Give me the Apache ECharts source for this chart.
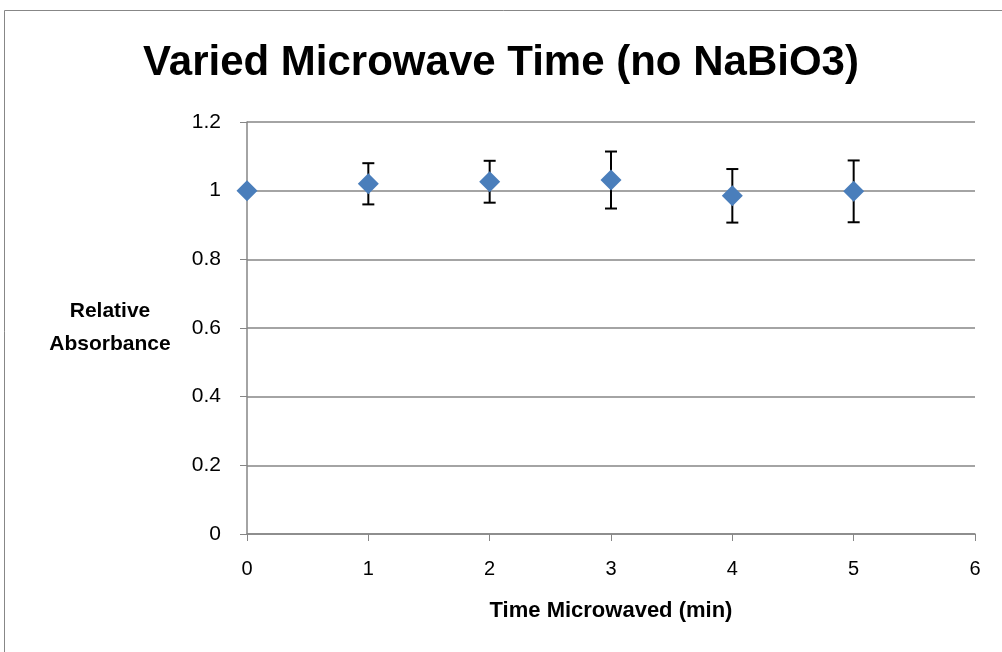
<!DOCTYPE html>
<html><head><meta charset="utf-8">
<script src="https://cdn.jsdelivr.net/npm/echarts@6/dist/echarts.min.js"></script>
<style>html,body{margin:0;padding:0;background:#fff}#c{width:1002px;height:652px}</style>
</head><body><div id="c"></div>
<script>
const times = [0, 1, 2, 3, 4, 5];
const absorbance = [1.0, 1.02, 1.026, 1.031, 0.985, 0.998];
const errors = [0, 0.06, 0.061, 0.083, 0.078, 0.09];
const xTicks = [0, 1, 2, 3, 4, 5, 6];
const yTicks = [0, 0.2, 0.4, 0.6, 0.8, 1, 1.2];
const titleText = 'Varied Microwave Time (no NaBiO3)';
const xName = 'Time Microwaved (min)';
const yName = 'Relative\nAbsorbance';

const FONT = 'Liberation Sans, sans-serif';
const chart = echarts.init(document.getElementById('c'));
const points = times.map((t, i) => [t, absorbance[i]]);
const bars = times.map((t, i) => [t, absorbance[i] - errors[i], absorbance[i] + errors[i]]).filter((d, i) => errors[i] > 0);

chart.setOption({
  animation: false,
  graphic: [{
    type: 'rect', shape: {x: 4.5, y: 10.5, width: 1100, height: 800},
    style: {fill: 'none', stroke: '#878787', lineWidth: 1}, silent: true
  }],
  title: {
    text: titleText, left: 'center', top: 37,
    textStyle: {fontFamily: FONT, fontWeight: 'bold', fontSize: 42, color: '#000'}
  },
  grid: {left: 247, right: 27, top: 122, bottom: 118},
  xAxis: {
    type: 'value', min: 0, max: 6, interval: 1,
    name: xName, nameLocation: 'middle', nameGap: 66,
    nameTextStyle: {fontFamily: FONT, fontWeight: 'bold', fontSize: 22, color: '#000'},
    axisLine: {show: true, lineStyle: {color: '#868686', width: 1.5}},
    axisTick: {show: true, inside: false, length: 7, lineStyle: {color: '#868686'}},
    axisLabel: {fontFamily: FONT, fontSize: 20, color: '#000', margin: 25},
    splitLine: {show: false}
  },
  yAxis: {
    type: 'value', min: 0, max: 1.2, interval: 0.2,
    name: yName, nameLocation: 'middle', nameGap: 137, nameRotate: 0,
    nameTextStyle: {fontFamily: FONT, fontWeight: 'bold', fontSize: 21, color: '#000', lineHeight: 33, align: 'center'},
    axisLine: {show: true, lineStyle: {color: '#868686', width: 1.5}},
    axisTick: {show: true, inside: false, length: 7, lineStyle: {color: '#868686'}},
    axisLabel: {fontFamily: FONT, fontSize: 21, color: '#000', margin: 26,
      formatter: v => String(Math.round(v * 10) / 10)},
    splitLine: {show: true, lineStyle: {color: '#868686', width: 1.5}}
  },
  series: [{
    type: 'custom', z: 2,
    data: bars,
    renderItem: (params, api) => {
      const x = api.value(0), lo = api.value(1), hi = api.value(2);
      const pLo = api.coord([x, lo]), pHi = api.coord([x, hi]);
      const w = 6;
      const st = {stroke: '#000', lineWidth: 2};
      return {type: 'group', children: [
        {type: 'line', shape: {x1: pLo[0], y1: pLo[1], x2: pHi[0], y2: pHi[1]}, style: st},
        {type: 'line', shape: {x1: pLo[0] - w, y1: pLo[1], x2: pLo[0] + w, y2: pLo[1]}, style: st},
        {type: 'line', shape: {x1: pHi[0] - w, y1: pHi[1], x2: pHi[0] + w, y2: pHi[1]}, style: st}
      ]};
    }
  }, {
    type: 'scatter', z: 3,
    data: points,
    symbol: 'diamond', symbolSize: 21,
    itemStyle: {color: '#4a7ebb', opacity: 1}
  }]
});
</script></body></html>
